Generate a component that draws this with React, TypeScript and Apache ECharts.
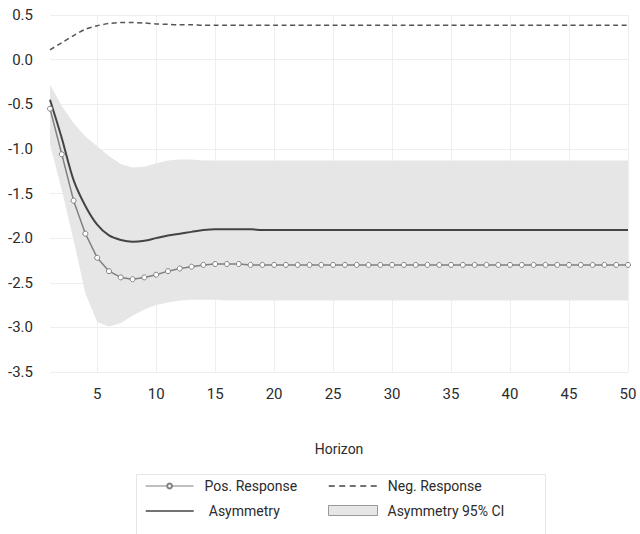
import React, { useEffect, useRef } from "react";
import * as echarts from "echarts";

const horizons = [
  "1","2","3","4","5","6","7","8","9","10",
  "11","12","13","14","15","16","17","18","19","20",
  "21","22","23","24","25","26","27","28","29","30",
  "31","32","33","34","35","36","37","38","39","40",
  "41","42","43","44","45","46","47","48","49","50",
];

const posResponse = [
  -0.55, -1.06, -1.58, -1.95, -2.22, -2.37, -2.44, -2.46, -2.44, -2.41,
  -2.37, -2.34, -2.32, -2.30, -2.29, -2.29, -2.29, -2.30, -2.30, -2.30,
  -2.30, -2.30, -2.30, -2.30, -2.30, -2.30, -2.30, -2.30, -2.30, -2.30,
  -2.30, -2.30, -2.30, -2.30, -2.30, -2.30, -2.30, -2.30, -2.30, -2.30,
  -2.30, -2.30, -2.30, -2.30, -2.30, -2.30, -2.30, -2.30, -2.30, -2.30,
];

const negResponse = [
  0.11, 0.19, 0.27, 0.34, 0.38, 0.405, 0.415, 0.415, 0.41, 0.40,
  0.395, 0.39, 0.39, 0.385, 0.385, 0.385, 0.385, 0.385, 0.385, 0.385,
  0.385, 0.385, 0.385, 0.385, 0.385, 0.385, 0.385, 0.385, 0.385, 0.385,
  0.385, 0.385, 0.385, 0.385, 0.385, 0.385, 0.385, 0.385, 0.385, 0.385,
  0.385, 0.385, 0.385, 0.385, 0.385, 0.385, 0.385, 0.385, 0.385, 0.385,
];

const asymmetry = [
  -0.45, -0.88, -1.35, -1.64, -1.85, -1.97, -2.02, -2.04, -2.03, -2.0,
  -1.97, -1.95, -1.93, -1.91, -1.9, -1.9, -1.9, -1.9, -1.91, -1.91,
  -1.91, -1.91, -1.91, -1.91, -1.91, -1.91, -1.91, -1.91, -1.91, -1.91,
  -1.91, -1.91, -1.91, -1.91, -1.91, -1.91, -1.91, -1.91, -1.91, -1.91,
  -1.91, -1.91, -1.91, -1.91, -1.91, -1.91, -1.91, -1.91, -1.91, -1.91,
];

const ciUpper = [
  -0.28, -0.52, -0.71, -0.86, -0.97, -1.08, -1.17, -1.21, -1.2, -1.16,
  -1.13, -1.12, -1.12, -1.13, -1.13, -1.13, -1.13, -1.13, -1.13, -1.13,
  -1.13, -1.13, -1.13, -1.13, -1.13, -1.13, -1.13, -1.13, -1.13, -1.13,
  -1.13, -1.13, -1.13, -1.13, -1.13, -1.13, -1.13, -1.13, -1.13, -1.13,
  -1.13, -1.13, -1.13, -1.13, -1.13, -1.13, -1.13, -1.13, -1.13, -1.13,
];

const ciLower = [
  -0.95, -1.46, -2.02, -2.62, -2.94, -2.99, -2.95, -2.87, -2.8, -2.75,
  -2.72, -2.7, -2.69, -2.69, -2.69, -2.7, -2.7, -2.7, -2.7, -2.7,
  -2.7, -2.7, -2.7, -2.7, -2.7, -2.7, -2.7, -2.7, -2.7, -2.7,
  -2.7, -2.7, -2.7, -2.7, -2.7, -2.7, -2.7, -2.7, -2.7, -2.7,
  -2.7, -2.7, -2.7, -2.7, -2.7, -2.7, -2.7, -2.7, -2.7, -2.7,
];

const FONT = "Roboto, 'Noto Sans', sans-serif";
const TEXT = "#2b2b2b";

export default function App() {
  const ref = useRef<HTMLDivElement>(null);
  useEffect(() => {
    if (!ref.current) return;
    const chart = echarts.init(ref.current, null, { renderer: "svg" });
    const ciWidth = ciUpper.map((u, i) => u - ciLower[i]);
    const showEvery5 = (_i: number, v: string) => Number(v) % 5 === 0;
    const legendText = { color: TEXT, fontFamily: FONT, fontSize: 14 };
    const hiddenSymbol = { color: "transparent", borderColor: "transparent", borderWidth: 0 };
    chart.setOption({
      animation: false,
      backgroundColor: "#fff",
      grid: { left: 50, right: 12, top: 15, bottom: 162, containLabel: false },
      xAxis: {
        type: "category",
        data: horizons,
        boundaryGap: false,
        name: "Horizon",
        nameLocation: "middle",
        nameGap: 70,
        nameTextStyle: { color: TEXT, fontFamily: FONT, fontSize: 14 },
        axisLine: { show: false },
        axisTick: { show: false },
        axisLabel: { interval: showEvery5, color: TEXT, fontFamily: FONT, fontSize: 15, margin: 14 },
        splitLine: { show: true, interval: showEvery5, lineStyle: { color: "#eeeeee", width: 1 } },
      },
      yAxis: {
        type: "value",
        min: -3.5,
        max: 0.5,
        interval: 0.5,
        axisLine: { show: false },
        axisTick: { show: false },
        axisLabel: {
          color: TEXT,
          fontFamily: FONT,
          fontSize: 15,
          margin: 17,
          formatter: (v: number) => v.toFixed(1),
        },
        splitLine: { show: true, lineStyle: { color: "#eeeeee", width: 1 } },
      },
      legend: [
        {
          data: [{ name: "Pos. Response" }],
          left: 145, top: 479, padding: 0,
          itemWidth: 48, itemHeight: 6,
          lineStyle: { width: 1.2 },
          textStyle: { ...legendText, padding: [0, 0, 0, 6] },
        },
        {
          data: [{ name: "Asymmetry" }],
          left: 145, top: 504, padding: 0,
          itemWidth: 48, itemHeight: 6,
          itemStyle: hiddenSymbol,
          lineStyle: { width: 1.5 },
          textStyle: { ...legendText, padding: [0, 0, 0, 10] },
        },
        {
          data: [{ name: "Neg. Response" }],
          left: 328, top: 479, padding: 0,
          itemWidth: 48, itemHeight: 6,
          itemStyle: hiddenSymbol,
          lineStyle: { width: 1.5, color: "#444", type: [6, 4.5] },
          textStyle: { ...legendText, padding: [0, 0, 0, 6] },
        },
        {
          data: [{
            name: "Asymmetry 95% CI",
            icon: "rect",
            itemStyle: { color: "#e6e6e6", borderColor: "#999", borderWidth: 1 },
          }],
          left: 328, top: 503.5, padding: 0,
          itemWidth: 49, itemHeight: 10,
          textStyle: { ...legendText, padding: [0, 0, 0, 5] },
        },
      ],
      graphic: [
        {
          type: "rect",
          left: 134, top: 472,
          shape: { width: 409, height: 76 },
          style: { fill: "none", stroke: "#e6e6e6", lineWidth: 1 },
          silent: true,
        },
      ],
      series: [
        {
          name: "CI lower",
          type: "line",
          data: ciLower,
          stack: "ci",
          stackStrategy: "all",
          symbol: "none",
          lineStyle: { opacity: 0 },
          silent: true,
          z: 1,
        },
        {
          name: "Asymmetry 95% CI",
          type: "line",
          data: ciWidth,
          stack: "ci",
          stackStrategy: "all",
          symbol: "none",
          lineStyle: { opacity: 0 },
          itemStyle: { color: "#e6e6e6" },
          areaStyle: { color: "#e6e6e6", opacity: 1 },
          silent: true,
          z: 1,
        },
        {
          name: "Neg. Response",
          type: "line",
          data: negResponse,
          symbol: "none",
          smooth: 0.3,
          itemStyle: { color: "#555" },
          lineStyle: { color: "#555", width: 1.5, type: [5, 3.5] },
          z: 3,
        },
        {
          name: "Asymmetry",
          type: "line",
          data: asymmetry,
          symbol: "none",
          smooth: 0.3,
          itemStyle: { color: "#444" },
          lineStyle: { color: "#444", width: 2 },
          z: 3,
        },
        {
          name: "Pos. Response",
          type: "line",
          data: posResponse,
          symbol: "circle",
          symbolSize: 5,
          showSymbol: true,
          itemStyle: { color: "#fff", borderColor: "#808080", borderWidth: 1 },
          lineStyle: { color: "#808080", width: 1.5 },
          z: 4,
        },
      ],
    });
    return () => chart.dispose();
  }, []);
  return <div ref={ref} style={{ width: 640, height: 534, position: "absolute", left: 0, top: 0 }} />;
}
